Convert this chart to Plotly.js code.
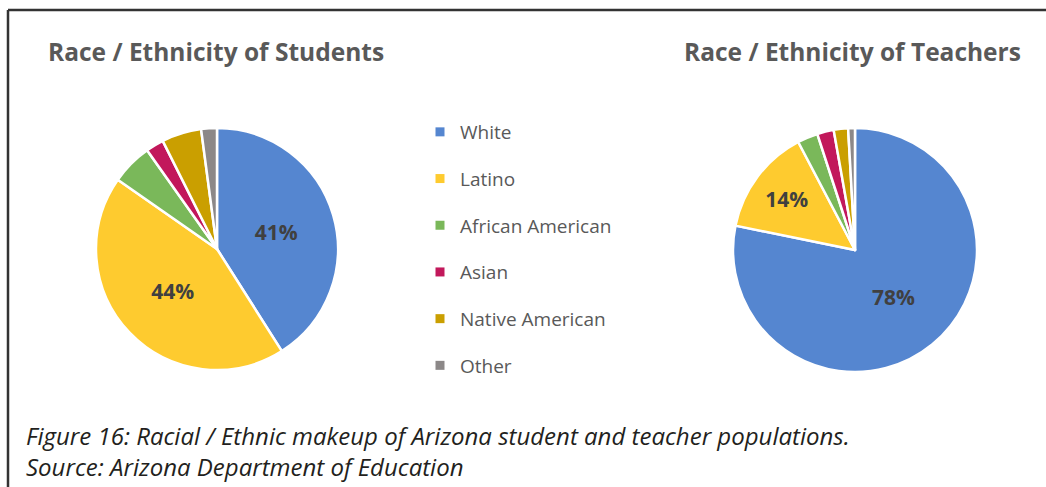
<!DOCTYPE html>
<html>
<head>
<meta charset="utf-8">
<script src="https://cdn.plot.ly/plotly-3.0.1.min.js"></script>
<style>html,body{margin:0;padding:0;background:#fff;}#chart{width:1046px;height:487px;}</style>
</head>
<body>
<div id="chart"></div>
<script>
// ---- data ----
const categories = ["White", "Latino", "African American", "Asian", "Native American", "Other"];
const studentValues = [41, 43.7, 5.5, 2.4, 5.3, 2.1];
const teacherValues = [78.2, 14.1, 2.7, 2.2, 1.9, 0.9];
const sliceColors = ["#5586D0", "#FECB2F", "#7AB85A", "#C2185B", "#CA9F00", "#8C8888"];
const studentTitle = "Race / Ethnicity of Students";
const teacherTitle = "Race / Ethnicity of Teachers";
const captionLines = ["Figure 16: Racial / Ethnic makeup of Arizona student and teacher populations.",
                      "Source: Arizona Department of Education"];

const W = 1046, H = 487;
const px = v => v / W;
const py = v => 1 - v / H;

function labelTemplate(vals) {
  return vals.map(v => v > 10 ? "%{percent:.0%}" : "");
}

const pieCommon = {
  type: "pie",
  labels: categories,
  sort: false,
  direction: "clockwise",
  rotation: 0,
  marker: { colors: sliceColors, line: { color: "#ffffff", width: 2.5 } },
  textposition: "inside",
  insidetextorientation: "horizontal",
  textfont: { family: "'Open Sans', sans-serif", size: 21, color: "#404040", weight: "bold" },
  showlegend: false,
  hoverinfo: "label+percent"
};

const students = Object.assign({}, pieCommon, {
  values: studentValues,
  texttemplate: labelTemplate(studentValues),
  domain: { x: [px(96), px(338)], y: [py(370), py(128)] }
});
const teachers = Object.assign({}, pieCommon, {
  values: teacherValues,
  texttemplate: labelTemplate(teacherValues),
  domain: { x: [px(733), px(977)], y: [py(372), py(128)] }
});

// legend entries (one per category)
const legendTraces = categories.map((c, i) => ({
  type: "scatter",
  mode: "markers",
  x: [null], y: [null],
  name: c,
  legendgroup: "g" + i,
  marker: { symbol: "square", size: 9, color: sliceColors[i], line: { width: 0 } },
  showlegend: true,
  hoverinfo: "skip"
}));

const layout = {
  width: W, height: H,
  margin: { l: 0, r: 0, t: 0, b: 0 },
  paper_bgcolor: "#ffffff",
  plot_bgcolor: "rgba(0,0,0,0)",
  xaxis: { visible: false, domain: [0.45, 0.46] },
  yaxis: { visible: false, domain: [0.45, 0.46] },
  showlegend: true,
  legend: {
    x: px(420), y: py(113), xanchor: "left", yanchor: "top",
    font: { family: "'Open Sans', sans-serif", size: 19, color: "#595959" },
    tracegroupgap: 19,
    bgcolor: "rgba(0,0,0,0)",
    borderwidth: 0,
    traceorder: "grouped"
  },
  shapes: [
    { type: "line", xref: "paper", yref: "paper", x0: px(8), x1: 1, y0: py(10), y1: py(10), line: { color: "#333333", width: 2.5 } },
    { type: "line", xref: "paper", yref: "paper", x0: px(8), x1: px(8), y0: py(10), y1: 0, line: { color: "#333333", width: 2.5 } }
  ],
  annotations: [
    { text: studentTitle, xref: "paper", yref: "paper", x: px(216), y: py(51), xanchor: "center", yanchor: "middle", showarrow: false,
      font: { family: "'Open Sans', sans-serif", size: 24.5, color: "#595959", weight: "bold" } },
    { text: teacherTitle, xref: "paper", yref: "paper", x: px(852), y: py(51), xanchor: "center", yanchor: "middle", showarrow: false,
      font: { family: "'Open Sans', sans-serif", size: 24.5, color: "#595959", weight: "bold" } },
    { text: "<i>" + captionLines.join("<br>") + "</i>", xref: "paper", yref: "paper", x: px(24), y: py(451), xanchor: "left", yanchor: "middle", align: "left", showarrow: false,
      font: { family: "'Open Sans', sans-serif", size: 24, color: "#231F20" } }
  ]
};

Plotly.newPlot("chart", [students, teachers].concat(legendTraces), layout, { displayModeBar: false, staticPlot: true });
</script>
</body>
</html>
